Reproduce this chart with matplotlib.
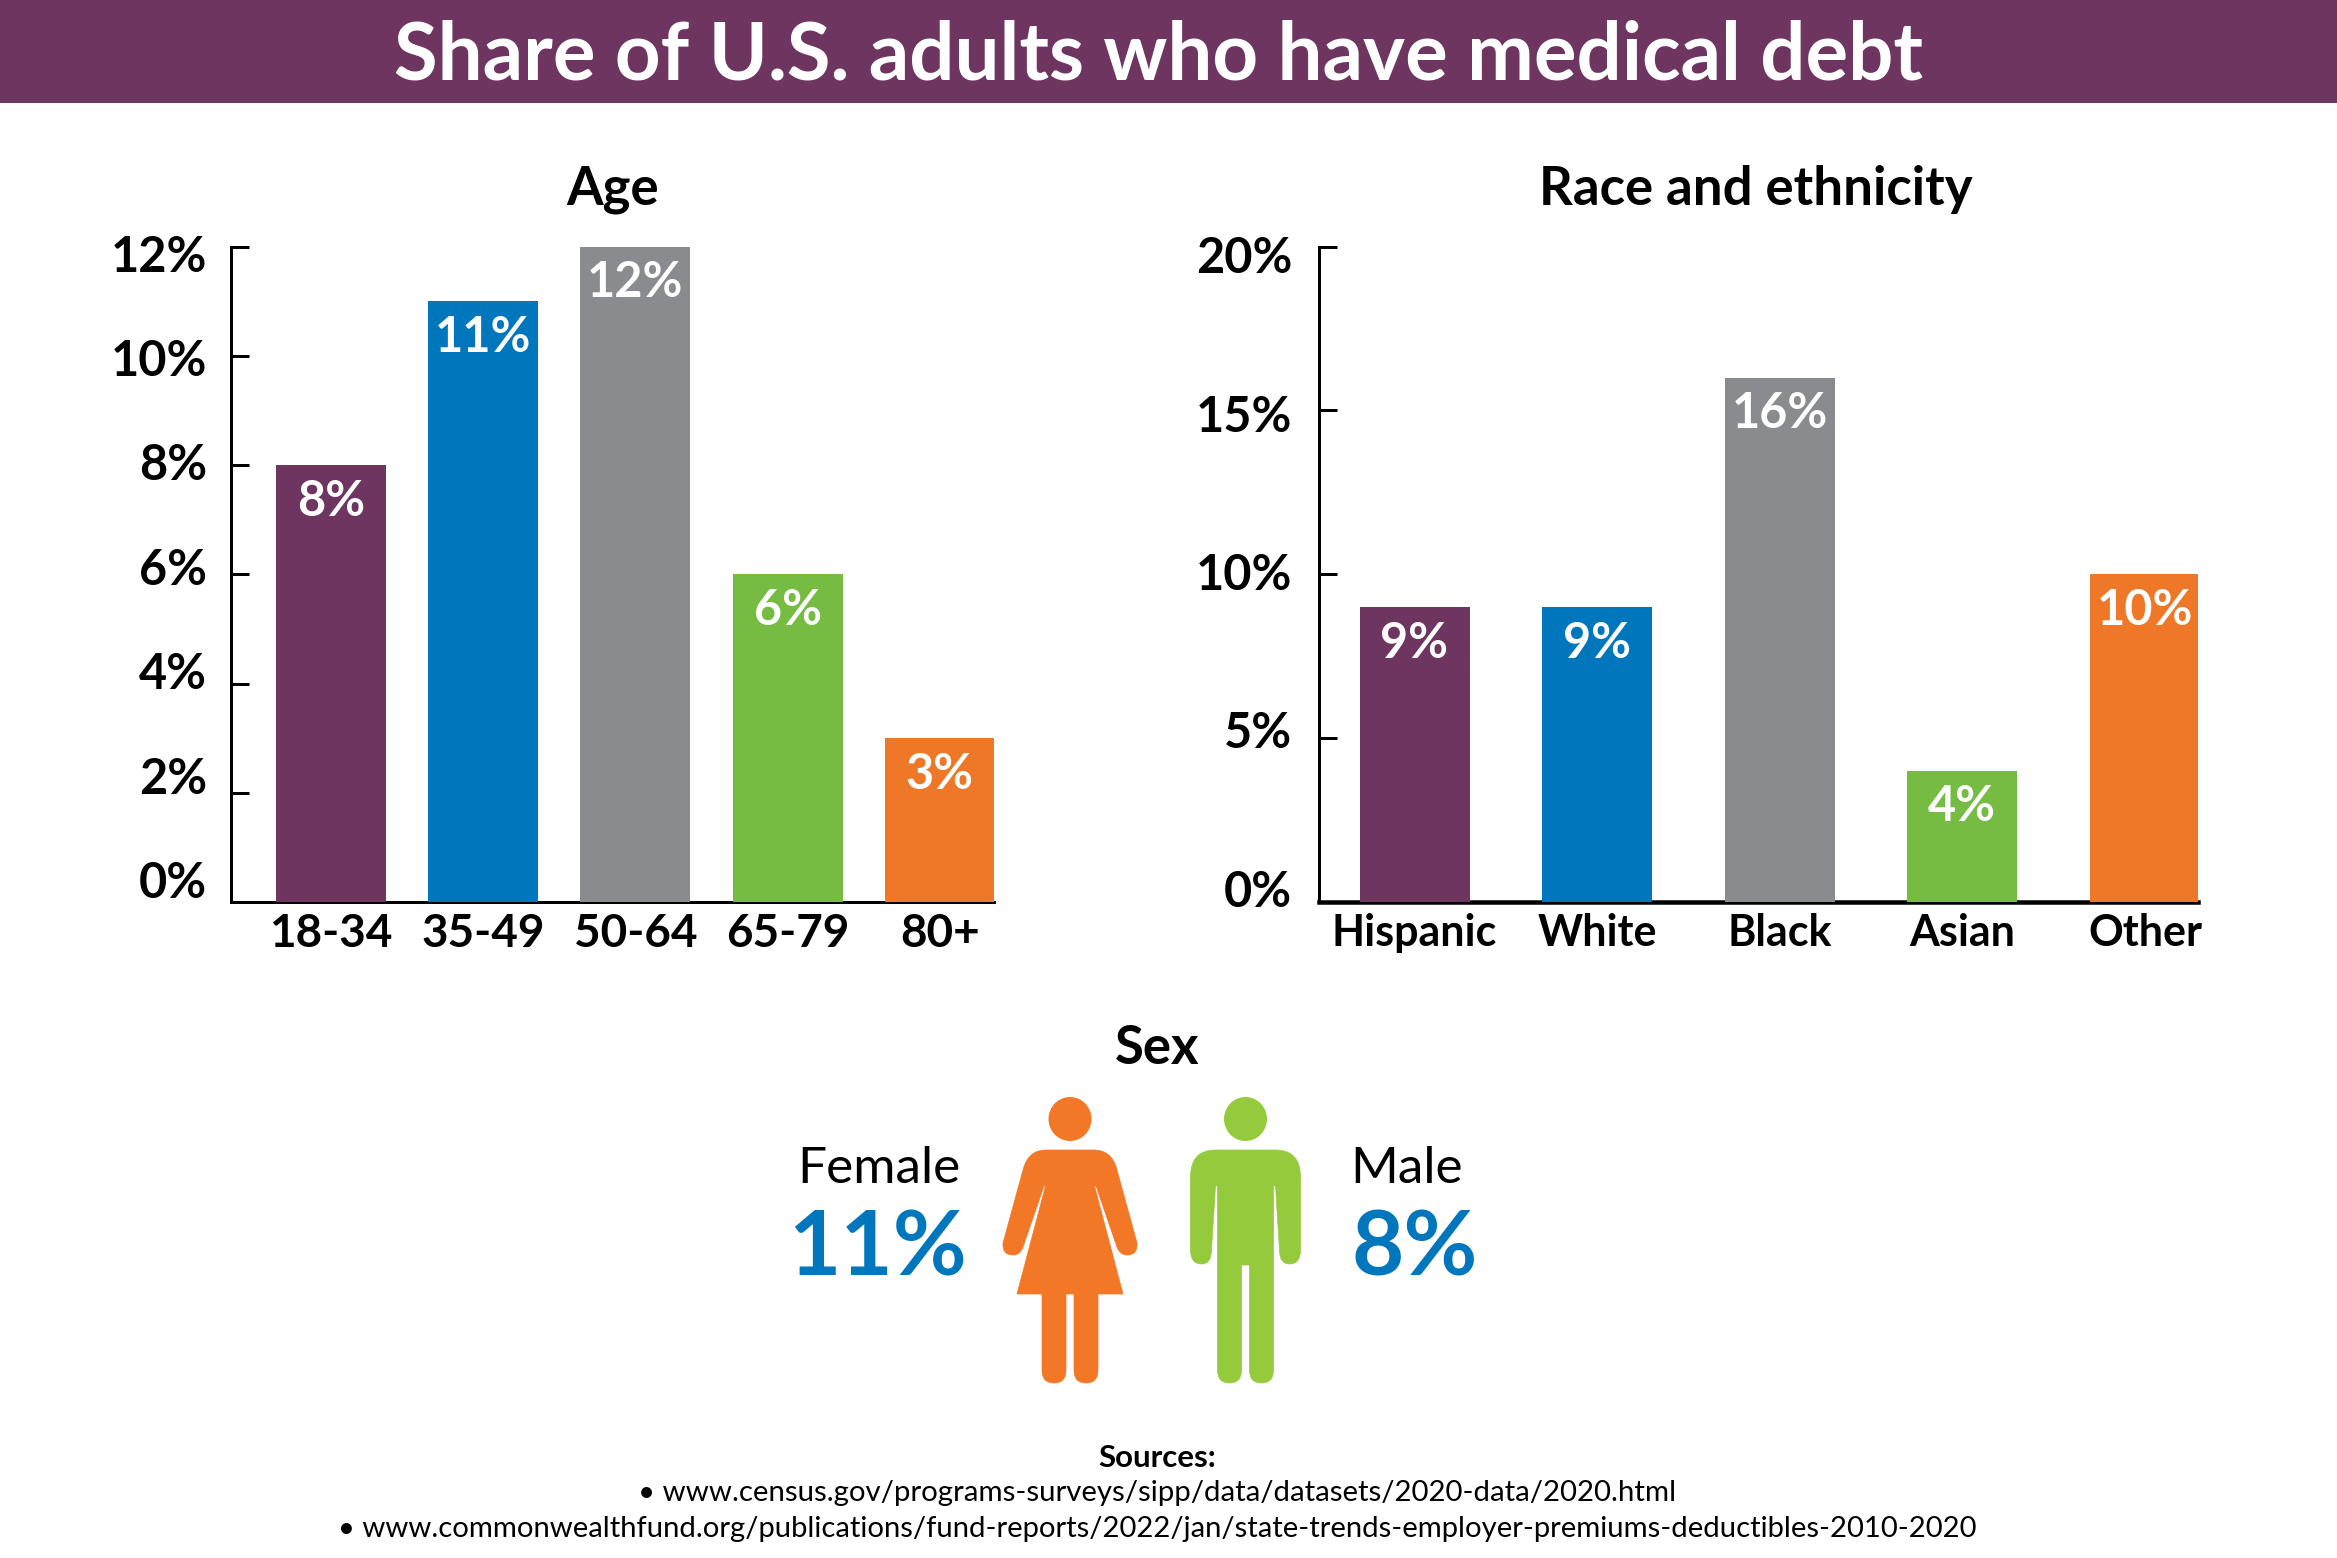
import matplotlib
matplotlib.use("Agg")
import matplotlib.pyplot as plt
from matplotlib.path import Path
from matplotlib.patches import PathPatch, Ellipse, Rectangle
from matplotlib.transforms import Affine2D

W, H = 2337, 1558
PURPLE, BLUE, GRAY, GREEN, ORANGE = "#6E3560", "#0076BD", "#8A8B8E", "#76BC43", "#EE7828"
ICON_ORANGE, ICON_GREEN = "#F27727", "#96CA3D"

age_labels = ["18-34", "35-49", "50-64", "65-79", "80+"]
age_values = [8, 11, 12, 6, 3]
age_ticks = [0, 2, 4, 6, 8, 10, 12]
race_labels = ["Hispanic", "White", "Black", "Asian", "Other"]
race_values = [9, 9, 16, 4, 10]
race_ticks = [0, 5, 10, 15, 20]
bar_colors = [PURPLE, BLUE, GRAY, GREEN, ORANGE]
female_share = 11
male_share = 8
sources = ["www.census.gov/programs-surveys/sipp/data/datasets/2020-data/2020.html",
           "www.commonwealthfund.org/publications/fund-reports/2022/jan/state-trends-employer-premiums-deductibles-2010-2020"]

plt.rcParams["font.family"] = ["Lato", "DejaVu Sans"]
fig = plt.figure(figsize=(W / 100, H / 100), dpi=100, facecolor="white")
PX = 0.72


def add_px_axes(x0, x1, ytop, ybot):
    return fig.add_axes([x0 / W, 1 - ybot / H, (x1 - x0) / W, (ybot - ytop) / H])


def bar_panel(x0, x1, first, step, labels, values, ticks, ymax, title, tcx, pad, lab0, labstep, xfs, base_lw):
    ax = add_px_axes(x0, x1, 246.5, 902)
    ax.set_facecolor("none")
    pos = list(range(len(values)))
    ax.bar(pos, values, width=110 / step, color=bar_colors, zorder=3)
    ax.set_xlim(-(first - x0) / step, (x1 - first) / step)
    ax.set_ylim(0, ymax)
    for s in ("top", "right"):
        ax.spines[s].set_visible(False)
    ax.spines["left"].set_linewidth(3 * PX)
    ax.spines["bottom"].set_linewidth(base_lw * PX)
    ax.set_xticks(pos, labels, fontsize=xfs, fontweight="bold", color="black")
    ax.tick_params(axis="x", length=0, pad=11 * PX)
    ax.set_yticks(ticks, [f"{t}%" for t in ticks], fontsize=35, fontweight="bold", color="black")
    ax.tick_params(axis="y", direction="in", length=18 * PX, width=3 * PX, pad=pad * PX)
    pxu = 655.5 / ymax
    for tk, v in zip(ax.yaxis.get_major_ticks(), ticks):
        off = lab0 + labstep * v - pxu * v
        tk.label1.set_transform(tk.label1.get_transform() + Affine2D().translate(0, off))
    for p, v in zip(pos, values):
        ax.annotate(f"{v}%", (p, v), xytext=(0, -36 * PX), textcoords="offset points", ha="center",
                    va="center", color="white", fontsize=35, fontweight="bold", zorder=4)
    fig.text(tcx / W, 1 - 190 / H, title, ha="center", va="center", fontsize=38, fontweight="bold")
    return ax


bar_panel(231, 994, 331, 152.2, age_labels, age_values, age_ticks, 12, "Age", 612.5, 24, 22.5, 52.2, 33, 3)
bar_panel(1319, 2198, 1414.5, 182.6, race_labels, race_values, race_ticks, 20, "Race and ethnicity", 1756, 27, 13.5, 31.7, 31, 4.5)

ov = fig.add_axes([0, 0, 1, 1], zorder=5)
ov.set_xlim(0, W)
ov.set_ylim(H, 0)
ov.axis("off")
ov.patch.set_alpha(0)

ov.add_patch(Rectangle((0, 0), W, 103, color=PURPLE, lw=0))
ov.text(1158, 56, "Share of U.S. adults who have medical debt", color="white",
        fontsize=57.4, fontweight="bold", ha="center", va="center")


def half_path(cx, sign, cmds):
    verts, codes = [], []
    for c, *pts in cmds:
        for (dx, y) in pts:
            verts.append((cx + sign * dx, y))
        codes += {"M": [Path.MOVETO], "L": [Path.LINETO], "Q": [Path.CURVE3, Path.CURVE3]}[c]
    verts.append(verts[0])
    codes.append(Path.CLOSEPOLY)
    return Path(verts, codes)


woman = [("M", (0, 1150)), ("L", (24, 1150)), ("Q", (42, 1150), (47, 1170)), ("L", (67, 1243)),
         ("Q", (68, 1255), (57, 1255)), ("Q", (50, 1255), (47, 1247)), ("L", (26, 1186)), ("L", (24.5, 1186)),
         ("L", (53, 1294)), ("L", (28, 1294)), ("L", (28, 1370)), ("Q", (28, 1383), (16, 1383)),
         ("Q", (4, 1383), (4, 1370)), ("L", (4, 1294)), ("L", (0, 1294))]
man = [("M", (0, 1150)), ("L", (30, 1150)), ("Q", (55, 1150), (55, 1177)), ("L", (55, 1250)),
       ("Q", (55, 1264), (44, 1264)), ("Q", (34, 1264), (34, 1250)), ("L", (30, 1186)), ("L", (28, 1186)),
       ("L", (28, 1370)), ("Q", (28, 1383), (16, 1383)), ("Q", (4, 1383), (4, 1370)), ("L", (4, 1265)), ("L", (0, 1265))]
for cx, shape, col in [(1070, woman, ICON_ORANGE), (1245.5, man, ICON_GREEN)]:
    ov.add_patch(Ellipse((cx, 1119), 43, 44, color=col, lw=0))
    for sign in (1, -1):
        ov.add_patch(PathPatch(half_path(cx, sign, shape), facecolor=col, edgecolor=col, lw=0.5))

ov.text(1157.5, 1048, "Sex", fontsize=38, fontweight="bold", ha="center", va="center")
ov.text(879, 1183, "Female", fontsize=37, ha="center", va="baseline")
ov.text(877, 1275, f"{female_share}%", fontsize=65, fontweight="bold", color=BLUE, ha="center", va="baseline")
ov.text(1407, 1183, "Male", fontsize=37, ha="center", va="baseline")
ov.text(1415, 1275, f"{male_share}%", fontsize=65, fontweight="bold", color=BLUE, ha="center", va="baseline")

ov.text(1157, 1458, "Sources:", fontsize=22.5, fontweight="bold", ha="center", va="center")
ov.text(1157, 1493, "\u2022 " + sources[0], fontsize=21.2, ha="center", va="center")
ov.text(1157, 1529, "\u2022 " + sources[1], fontsize=21.1, ha="center", va="center")

fig.savefig("out.png", dpi=100)
